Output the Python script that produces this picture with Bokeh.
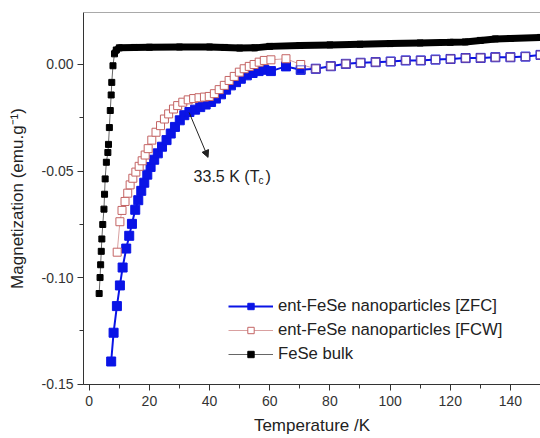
from bokeh.plotting import figure
from bokeh.models import (Range1d, SingleIntervalTicker, NumeralTickFormatter, Legend, LegendItem,
                          Arrow, NormalHead, Label, Span)
from bokeh.embed import file_html
from bokeh.resources import INLINE

# ---------------- data ----------------
bulk_T = [3.3, 3.6, 3.8, 4.0, 4.2, 4.5, 4.9, 5.1, 5.3, 5.7, 6.2, 6.4, 6.7, 7.0, 7.3, 7.5, 7.9,
          8.4, 9.0, 10, 15, 20, 30, 40, 45, 50, 55, 60, 70, 80, 90, 100, 110, 120, 125, 130, 135, 140, 150]
bulk_M = [-0.1075, -0.1000, -0.0940, -0.0877, -0.0819, -0.0751, -0.0679, -0.0609, -0.0537, -0.0459,
          -0.0413, -0.0375, -0.0296, -0.0216, -0.0143, -0.0084, -0.0006,
          0.0050, 0.0068, 0.0078, 0.0080, 0.0081, 0.0082, 0.0082, 0.0080, 0.0077, 0.0078, 0.0085,
          0.0089, 0.0092, 0.0095, 0.0098, 0.0101, 0.0104, 0.0106, 0.0113, 0.0120, 0.0122, 0.0127]
bulk_dense_from = 17  # index where the bulk points become a continuous band

zfc_T = [7.3, 8.1, 9.2, 10.2, 11.1, 12.3, 13.3, 14.2, 15.3, 16.3, 17.3, 18.3, 19.3, 20.4, 21.6,
         22.8, 24.2, 25.7, 27.1, 28.5, 30.1, 31.6, 33.3, 35.2, 36.9, 38.7, 40.5, 42.1, 43.8, 45.5,
         47.1, 48.8, 50.4, 52.4, 54.3, 56.3, 58.2, 60.4, 65.4, 70.3, 75.3, 80.3, 85.3, 90.2, 95.2,
         100.2, 105.2, 110.2, 115.1, 120.1, 125.1, 130.1, 135, 140, 145, 150]
zfc_M = [-0.1394, -0.1259, -0.1134, -0.1037, -0.0953, -0.0864, -0.0804, -0.0748, -0.0682, -0.0637,
         -0.0593, -0.0555, -0.0517, -0.0481, -0.0447, -0.0417, -0.0386, -0.0355, -0.0324, -0.0293,
         -0.0262, -0.0238, -0.0223, -0.0212, -0.0200, -0.0188, -0.0176, -0.0160, -0.0140, -0.0118,
         -0.0098, -0.0083, -0.0067, -0.0051, -0.0040, -0.0031, -0.0025, -0.0031, -0.0009, -0.0025,
         -0.0020, -0.0008, 0.0003, 0.0008, 0.0011, 0.0014, 0.0019, 0.0019, 0.0023, 0.0026,
         0.0030, 0.0031, 0.0034, 0.0034, 0.0037, 0.0045]

fcw_T = [9.3, 10.2, 10.9, 11.9, 12.8, 13.6, 14.5, 15.5, 16.6, 17.6, 18.6, 19.6, 20.8, 22.2, 23.7,
         25.0, 26.4, 28.0, 29.4, 31.1, 32.9, 34.7, 36.5, 38.3, 39.9, 41.6, 43.2, 44.9, 46.5, 48.2,
         49.9, 51.5, 53.2, 54.8, 56.5, 58.2, 60.4, 65.4, 70.3, 75.3, 80.3, 85.3, 90.2, 95.2, 100.2,
         105.2, 110.2, 115.1, 120.1, 125.1, 130.1, 135, 140, 145, 150]
fcw_M = [-0.0881, -0.0738, -0.0685, -0.0643, -0.0604, -0.0565, -0.0534, -0.0505, -0.0478, -0.0452,
         -0.0425, -0.0395, -0.0355, -0.0318, -0.0287, -0.0256, -0.0232, -0.0209, -0.0193, -0.0177,
         -0.0166, -0.0160, -0.0156, -0.0153, -0.0150, -0.0137, -0.0118, -0.0098, -0.0075, -0.0056,
         -0.0036, -0.0020, -0.0009, 0.0000, 0.0011, 0.0019, 0.0022, 0.0027, 0.0000, -0.0020,
         -0.0008, 0.0003, 0.0008, 0.0011, 0.0014, 0.0019, 0.0019, 0.0023, 0.0026, 0.0030,
         0.0031, 0.0034, 0.0034, 0.0037, 0.0045]

labels = ["ent-FeSe nanoparticles [ZFC]", "ent-FeSe nanoparticles [FCW]", "FeSe bulk"]
x_label = "Temperature /K"
y_label = "Magnetization (emu.g\u207b\u00b9)"
note_text, note_sub, note_close = "33.5 K (T", "c", ")"
note_xy = (34.7, -0.0525)
arrow_from = (33.2, -0.0225)
arrow_to = (39.5, -0.0436)

FONT = "Liberation Sans"
BLUE = "#0a14e6"

p = figure(width=540, height=438, output_backend="svg", toolbar_location=None,
           x_range=Range1d(-1.9, 150), y_range=Range1d(-0.1502, 0.0244),
           min_border_left=83, min_border_right=0, min_border_top=12, min_border_bottom=54)
p.grid.visible = False
p.outline_line_color = None
p.background_fill_color = "white"

# axes
p.xaxis.ticker = SingleIntervalTicker(interval=20, num_minor_ticks=2)
p.yaxis.ticker = SingleIntervalTicker(interval=0.05, num_minor_ticks=2)
p.yaxis.formatter = NumeralTickFormatter(format="0.00")
for ax in (p.xaxis[0], p.yaxis[0]):
    ax.axis_line_color = "#333333"
    ax.major_tick_line_color = "#333333"
    ax.minor_tick_line_color = "#333333"
    ax.major_tick_in = 0
    ax.major_tick_out = 6
    ax.minor_tick_in = 0
    ax.minor_tick_out = 4
    ax.major_label_text_font = FONT
    ax.major_label_text_font_size = "14px"
    ax.major_label_text_color = "#333333"
    ax.axis_label_text_font = FONT
    ax.axis_label_text_font_style = "normal"
    ax.axis_label_text_font_size = "17px"
    ax.axis_label_text_color = "#222222"
p.xaxis.axis_label = x_label
p.yaxis.axis_label = y_label
p.xaxis.major_label_standoff = 5
p.yaxis.major_label_standoff = 4
p.xaxis.axis_label_standoff = 7
p.yaxis.axis_label_standoff = 12

p.add_layout(Span(location=0.0244, dimension="width", line_color="#555555", line_width=1))

# FeSe bulk
bulk_line = p.line(bulk_T, bulk_M, line_color="#666666", line_width=1)
p.line(bulk_T[bulk_dense_from:], bulk_M[bulk_dense_from:], line_color="black", line_width=7)
bulk_sq = p.scatter(bulk_T, bulk_M, marker="square", size=6, fill_color="black", line_color="black")

# ZFC / FCW
fcw_line = p.line(fcw_T, fcw_M, line_color="#d9a0a0", line_width=1)
zfc_line = p.line(zfc_T, zfc_M, line_color=BLUE, line_width=2)
zfc_sq = p.scatter(zfc_T, zfc_M, marker="square", size=9, fill_color=BLUE, line_color=BLUE)
fcw_sq = p.scatter(fcw_T, fcw_M, marker="square", size=8, fill_color="white", line_color="#c46464")
p.scatter(zfc_T[39:], zfc_M[39:], marker="square", size=8, fill_alpha=0, line_color="#3a3ad0", line_alpha=0.8)

# annotation
p.add_layout(Arrow(end=NormalHead(size=7, fill_color="#222222", line_color="#222222", line_width=1),
                   x_start=arrow_from[0], y_start=arrow_from[1], x_end=arrow_to[0], y_end=arrow_to[1],
                   line_color="#222222", line_width=1))
p.add_layout(Label(x=note_xy[0], y=note_xy[1], text=note_text, text_font=FONT,
                   text_font_size="16px", text_color="#222222", text_baseline="alphabetic"))
p.add_layout(Label(x=note_xy[0], y=note_xy[1], x_offset=65, y_offset=-4, text=note_sub, text_font=FONT,
                   text_font_size="10px", text_color="#222222", text_baseline="alphabetic"))
p.add_layout(Label(x=note_xy[0], y=note_xy[1], x_offset=72, text=note_close, text_font=FONT,
                   text_font_size="16px", text_color="#222222", text_baseline="alphabetic"))

legend = Legend(items=[LegendItem(label=labels[0], renderers=[zfc_line, zfc_sq]),
                       LegendItem(label=labels[1], renderers=[fcw_line, fcw_sq]),
                       LegendItem(label=labels[2], renderers=[bulk_line, bulk_sq])],
                location=(145, 20), border_line_color=None, background_fill_alpha=0,
                label_text_font=FONT, label_text_font_size="16.7px", label_text_color="#222222",
                glyph_width=45, glyph_height=16, spacing=4, padding=0, margin=0,
                label_standoff=5, label_height=19)
p.add_layout(legend)

open("out.html", "w").write(file_html(p, INLINE))
